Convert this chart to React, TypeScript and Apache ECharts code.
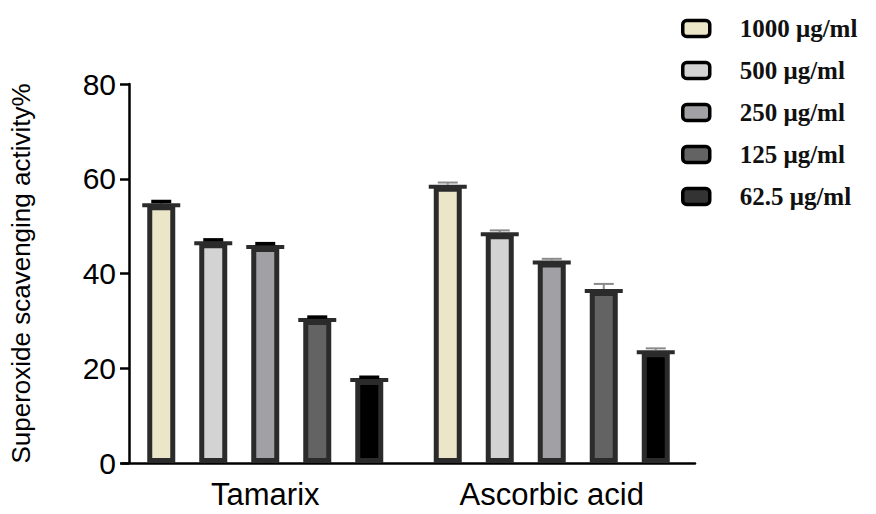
import React, { useEffect, useRef } from "react";
import * as echarts from "echarts";

const categories = ["Tamarix", "Ascorbic acid"];
const seriesNames = ["1000 μg/ml", "500 μg/ml", "250 μg/ml", "125 μg/ml", "62.5 μg/ml"];
const values1000 = [54.4, 58.3];
const values500 = [46.4, 48.3];
const values250 = [45.6, 42.3];
const values125 = [30.2, 36.3];
const values62 = [17.5, 23.4];
const err1000 = [0.8, 0.9];
const err500 = [0.7, 0.8];
const err250 = [0.7, 0.8];
const err125 = [0.6, 1.5];
const err62 = [0.6, 0.8];
const yTicks = [0, 20, 40, 60, 80];

const allValues = [values1000, values500, values250, values125, values62];
const allErrs = [err1000, err500, err250, err125, err62];
const fills = ["#ECE6C8", "#D3D3D3", "#A1A1A5", "#636363", "#000000"];
const legendFills = ["#ECE6C8", "#D3D3D3", "#A1A1A5", "#636363", "#333333"];
const capColors = ["#000000", "#8a8a8a"];

const BAR_W = 28;
const BAR_GAP = 24;
const BORDER = 5;

export default function App() {
  const ref = useRef<HTMLDivElement>(null);
  useEffect(() => {
    if (!ref.current) return;
    const chart = echarts.init(ref.current, null, { renderer: "svg" });
    const barSeries = seriesNames.map((name, i) => ({
      name,
      type: "bar",
      data: allValues[i],
      barWidth: BAR_W,
      barGap: (BAR_GAP / BAR_W) * 100 + "%",
      itemStyle: { color: fills[i], borderColor: "#2b2b2b", borderWidth: BORDER },
      silent: true,
    }));
    const errData: number[][] = [];
    allValues.forEach((vals, si) => {
      vals.forEach((v, ci) => errData.push([ci, si, v, allErrs[si][ci]]));
    });
    const errSeries = {
      type: "custom",
      silent: true,
      z: 5,
      encode: { x: 0, y: 2 },
      data: errData,
      renderItem: (params: any, api: any) => {
        const ci = api.value(0);
        const si = api.value(1);
        const v = api.value(2);
        const e = api.value(3);
        const p = api.coord([ci, v]);
        const pt = api.coord([ci, v + e]);
        const x = p[0] + (si - 2) * (BAR_W + BAR_GAP);
        const capColor = capColors[ci];
        return {
          type: "group",
          children: [
            {
              type: "line",
              shape: { x1: x - BAR_W / 2 - 5, y1: p[1], x2: x + BAR_W / 2 + 5, y2: p[1] },
              style: { stroke: "#2b2b2b", lineWidth: 4 },
            },
            {
              type: "line",
              shape: { x1: x, y1: p[1] - 2, x2: x, y2: pt[1] },
              style: { stroke: capColor, lineWidth: 2 },
            },
            {
              type: "line",
              shape: { x1: x - 10, y1: pt[1], x2: x + 10, y2: pt[1] },
              style: { stroke: capColor, lineWidth: ci === 0 ? 3.5 : 2 },
            },
          ],
        };
      },
    };
    chart.setOption({
      animation: false,
      backgroundColor: "#ffffff",
      grid: { left: 107, right: 181, top: 84, bottom: 51, containLabel: false },
      legend: {
        orient: "vertical",
        left: 676,
        top: 11,
        itemWidth: 27,
        itemHeight: 16,
        itemGap: 17,
        icon: "roundRect",
        data: seriesNames.map((n, i) => ({
          name: n,
          itemStyle: { color: legendFills[i], borderColor: "#000", borderWidth: 3.5 },
        })),
        textStyle: {
          fontFamily: "Liberation Serif",
          fontWeight: "bold",
          fontSize: 25,
          color: "#111",
          padding: [0, 0, 0, 25],
        },
        selectedMode: false,
      },
      xAxis: {
        type: "category",
        data: categories,
        axisLine: { lineStyle: { color: "#000", width: 2.5 } },
        axisTick: { alignWithLabel: true, length: 9, lineStyle: { color: "#000", width: 2.5 } },
        axisLabel: {
          fontFamily: "Liberation Sans",
          fontSize: 31,
          color: "#000",
          margin: 16,
        },
      },
      yAxis: {
        type: "value",
        offset: -7,
        min: yTicks[0],
        max: yTicks[yTicks.length - 1],
        interval: 20,
        name: "Superoxide scavenging activity%",
        nameLocation: "middle",
        nameGap: 95,
        nameTextStyle: {
          fontFamily: "Liberation Sans",
          fontSize: 26,
          color: "#000",
        },
        axisLine: { show: true, lineStyle: { color: "#000", width: 2.5 } },
        axisTick: { show: true, length: 9, lineStyle: { color: "#000", width: 2.5 } },
        axisLabel: {
          fontFamily: "Liberation Sans",
          fontSize: 30,
          color: "#000",
          margin: 13,
        },
        splitLine: { show: false },
      },
      series: [...barSeries, errSeries],
    });
    return () => chart.dispose();
  }, []);
  return (
    <div
      ref={ref}
      style={{ position: "absolute", left: 0, top: 0, width: 876, height: 514 }}
    />
  );
}
